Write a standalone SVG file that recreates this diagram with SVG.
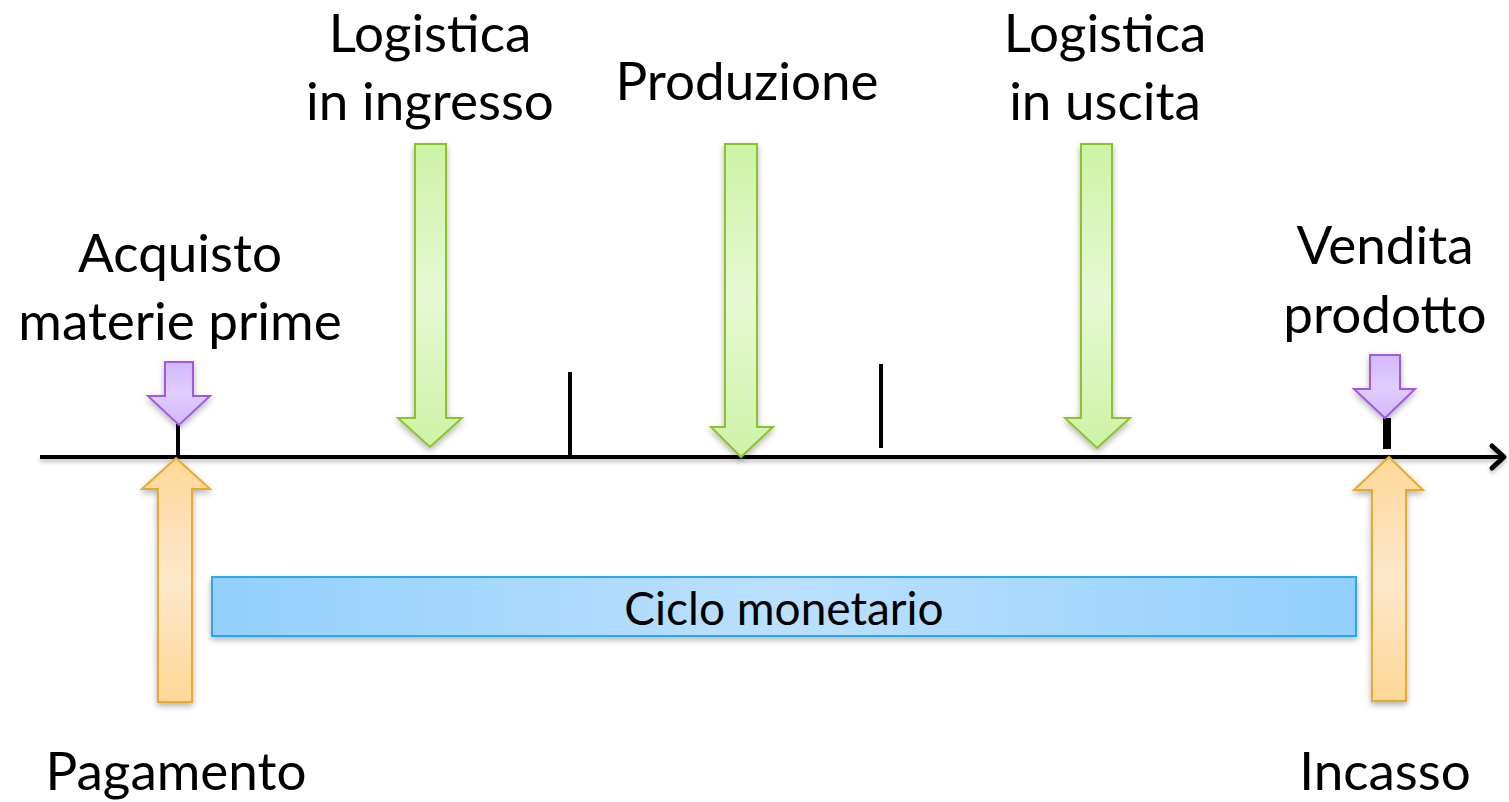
<svg xmlns="http://www.w3.org/2000/svg" width="1509" height="802" viewBox="0 0 1509 802">
<style>
text{font-family:Lato,"Open Sans","Liberation Sans",sans-serif;fill:#000;text-anchor:middle}
.big{font-size:53px}
.mid{font-size:46px}
.green{fill:url(#gG);stroke:#8cc22a;stroke-width:2;filter:url(#sh)}
.purple{fill:url(#gP);stroke:#a259e6;stroke-width:2;filter:url(#sh)}
.orange{fill:url(#gO);stroke:#e8aa2a;stroke-width:2;filter:url(#sh)}
.tick{stroke:#000;stroke-width:4;fill:none}
</style>
<defs>
<filter id="sh" x="-30%" y="-10%" width="160%" height="130%">
<feDropShadow dx="0" dy="3" stdDeviation="3" flood-color="#000" flood-opacity="0.3"/>
</filter>
<filter id="shl" filterUnits="userSpaceOnUse" x="0" y="430" width="1509" height="60">
<feDropShadow dx="0" dy="3" stdDeviation="2" flood-color="#000" flood-opacity="0.25"/>
</filter>
<linearGradient id="gG" x1="0" y1="0" x2="0" y2="1">
<stop offset="0" stop-color="#cdf3a6"/><stop offset="0.5" stop-color="#e6f9d4"/><stop offset="1" stop-color="#cdf3a6"/>
</linearGradient>
<linearGradient id="gP" x1="0" y1="0" x2="0" y2="1">
<stop offset="0" stop-color="#d3b8fb"/><stop offset="0.5" stop-color="#e0cdfd"/><stop offset="1" stop-color="#d3b8fb"/>
</linearGradient>
<linearGradient id="gO" x1="0" y1="0" x2="0" y2="1">
<stop offset="0" stop-color="#fdd797"/><stop offset="0.5" stop-color="#fde8cc"/><stop offset="1" stop-color="#fdd797"/>
</linearGradient>
<linearGradient id="gB" x1="0" y1="0" x2="1" y2="0">
<stop offset="0" stop-color="#93cffd"/><stop offset="0.5" stop-color="#bbe0fe"/><stop offset="1" stop-color="#93cffd"/>
</linearGradient>
</defs>

<g id="connectors">
<g filter="url(#shl)">
<line class="tick" x1="40" y1="457" x2="1503" y2="457"/>
<polyline class="tick" points="1492,446 1504,457 1492,468" style="stroke-width:5;stroke-linecap:round;stroke-linejoin:round"/>
</g>
<line class="tick" x1="178" y1="424" x2="178" y2="457"/>
<line class="tick" x1="570" y1="372" x2="570" y2="457"/>
<line class="tick" x1="881" y1="364" x2="881" y2="448"/>
<line class="tick" x1="1387" y1="418" x2="1387" y2="449" style="stroke-width:8"/>
</g>

<g id="arrow-logistica-ingresso">
<polygon class="green" points="415,144 446,144 446,418 462,418 430,447 398,418 415,418"/>
</g>
<g id="arrow-produzione">
<polygon class="green" points="725,144 757,144 757,427 773,427 741,457 711,427 725,427"/>
</g>
<g id="arrow-logistica-uscita">
<polygon class="green" points="1081,144 1112,144 1112,418 1130,418 1097,448 1065,418 1081,418"/>
</g>

<g id="arrow-acquisto">
<polygon class="purple" points="165,362 193,362 193,396 210,396 179,425 148,396 165,396"/>
</g>
<g id="arrow-vendita">
<polygon class="purple" points="1370,355 1400,355 1400,389 1415,389 1385,418 1354,389 1370,389"/>
</g>

<g id="arrow-pagamento">
<polygon class="orange" points="176,458 210,489 192,489 192,702 158,702 158,489 142,489"/>
</g>
<g id="arrow-incasso">
<polygon class="orange" points="1389,457 1423,490 1406,490 1406,701 1372,701 1372,490 1354,490"/>
</g>

<g id="ciclo-monetario">
<rect x="212" y="577" width="1144" height="59" fill="url(#gB)" stroke="#2aa8ea" stroke-width="2" style="filter:url(#sh)"/>
<text class="mid" x="784" y="625">Ciclo monetario</text>
</g>

<g id="labels">
<text class="big" x="430" y="52">Logistica</text>
<text class="big" x="430" y="120">in ingresso</text>
<text class="big" x="747" y="100">Produzione</text>
<text class="big" x="1105" y="52">Logistica</text>
<text class="big" x="1105" y="120">in uscita</text>
<text class="big" x="180" y="272">Acquisto</text>
<text class="big" x="180" y="340">materie prime</text>
<text class="big" x="1385" y="264">Vendita</text>
<text class="big" x="1385" y="333">prodotto</text>
<text class="big" x="176" y="790">Pagamento</text>
<text class="big" x="1385" y="790">Incasso</text>
</g>
</svg>
